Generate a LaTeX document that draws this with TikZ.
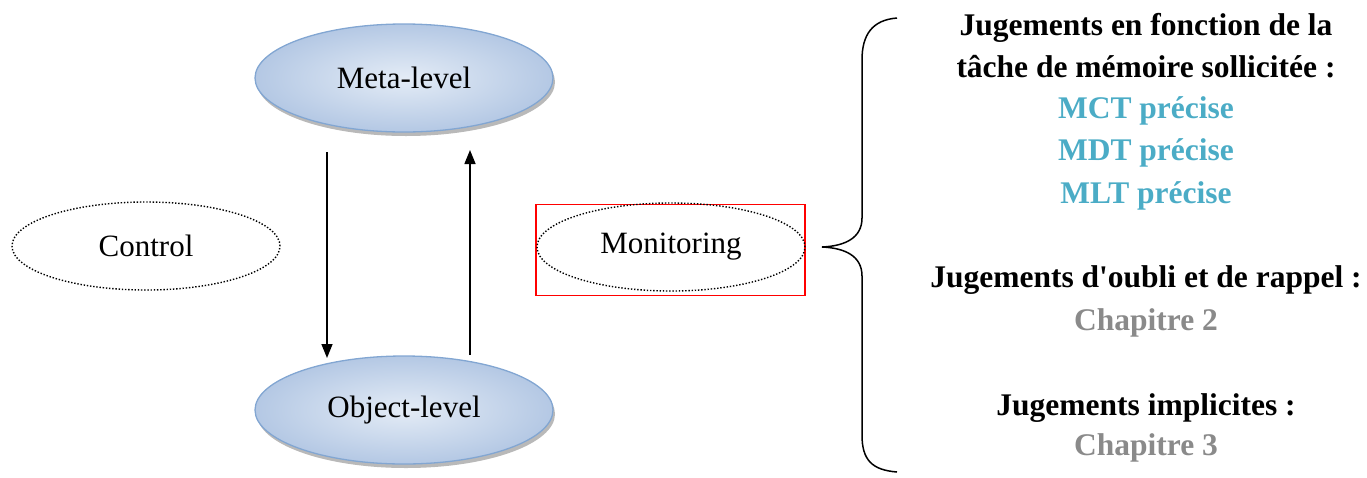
\documentclass[tikz,border=0pt]{standalone}
\usepackage{fontspec}
\setmainfont{Liberation Serif}
\usetikzlibrary{shapes.geometric, arrows.meta, shadows, positioning}
\tikzset{>={Triangle[length=14pt,width=11pt]}}

\definecolor{levelblue}{RGB}{130,166,210}
\definecolor{levelin}{RGB}{228,236,246}
\definecolor{levelout}{RGB}{180,200,228}
\definecolor{accentteal}{RGB}{75,172,198}
\definecolor{chapgray}{RGB}{138,138,138}

\tikzset{
  level/.style={ellipse, draw=levelblue, line width=1.3pt,
    inner color=levelin, outer color=levelout,
    minimum width=298pt, minimum height=108pt,
    font=\fontsize{31}{36}\selectfont,
    drop shadow={shadow xshift=2pt, shadow yshift=-4pt, fill=gray!55, opacity=1}},
  process/.style={ellipse, draw, line width=1.4pt, dash pattern=on 1.4pt off 1.8pt,
    minimum width=268pt, minimum height=88pt, font=\fontsize{31}{36}\selectfont},
  judge/.style={anchor=base, font=\fontsize{31.5}{42}\selectfont\bfseries},
}

\begin{document}
\begin{tikzpicture}[x=1pt, y=-1pt]
\useasboundingbox (0,0) rectangle (1367,477);

% levels
\node[level] (meta) at (404,78) {Meta-level};
\node[level] (object) at (404,410) {Object-level};

% control / monitoring
\node[process] (control) at (146,246) {Control};
\node[draw=red, line width=1.3pt, minimum width=269pt, minimum height=91pt] (monbox) at (670.5,250) {};
\node[process] (monitoring) at (671,247) {Monitoring};

% arrows between levels
\coordinate (downtop) at (327,152);
\coordinate (downbot) at (327,358);
\coordinate (uptop) at (470,150);
\coordinate (upbot) at (470,355);
\draw[->, line width=1.5pt] (downtop) -- (downbot);
\draw[->, line width=1.5pt] (upbot) -- (uptop);

% brace
\coordinate (bracetip) at (822,247);
\draw[line width=1.5pt] (897,18) .. controls (872,20) and (862,35) .. (862,60)
  -- (862,218) .. controls (862,238) and (845,246) .. (bracetip)
  .. controls (845,248) and (862,256) .. (862,276)
  -- (862,435) .. controls (862,460) and (872,470) .. (897,472);

% judgements
\node[judge] (j1) at (1146,35) {Jugements en fonction de la};
\node[judge] (j2) at (1146,77) {tâche de mémoire sollicitée :};
\node[judge, text=accentteal] (mct) at (1146,118) {MCT précise};
\node[judge, text=accentteal] (mdt) at (1146,160) {MDT précise};
\node[judge, text=accentteal] (mlt) at (1146,203) {MLT précise};
\node[judge] (j3) at (1146,287) {Jugements d\textquotesingle oubli et de rappel :};
\node[judge, text=chapgray] (ch2) at (1146,330) {Chapitre 2};
\node[judge] (j4) at (1146,415) {Jugements implicites :};
\node[judge, text=chapgray] (ch3) at (1146,455) {Chapitre 3};

\end{tikzpicture}
\end{document}
